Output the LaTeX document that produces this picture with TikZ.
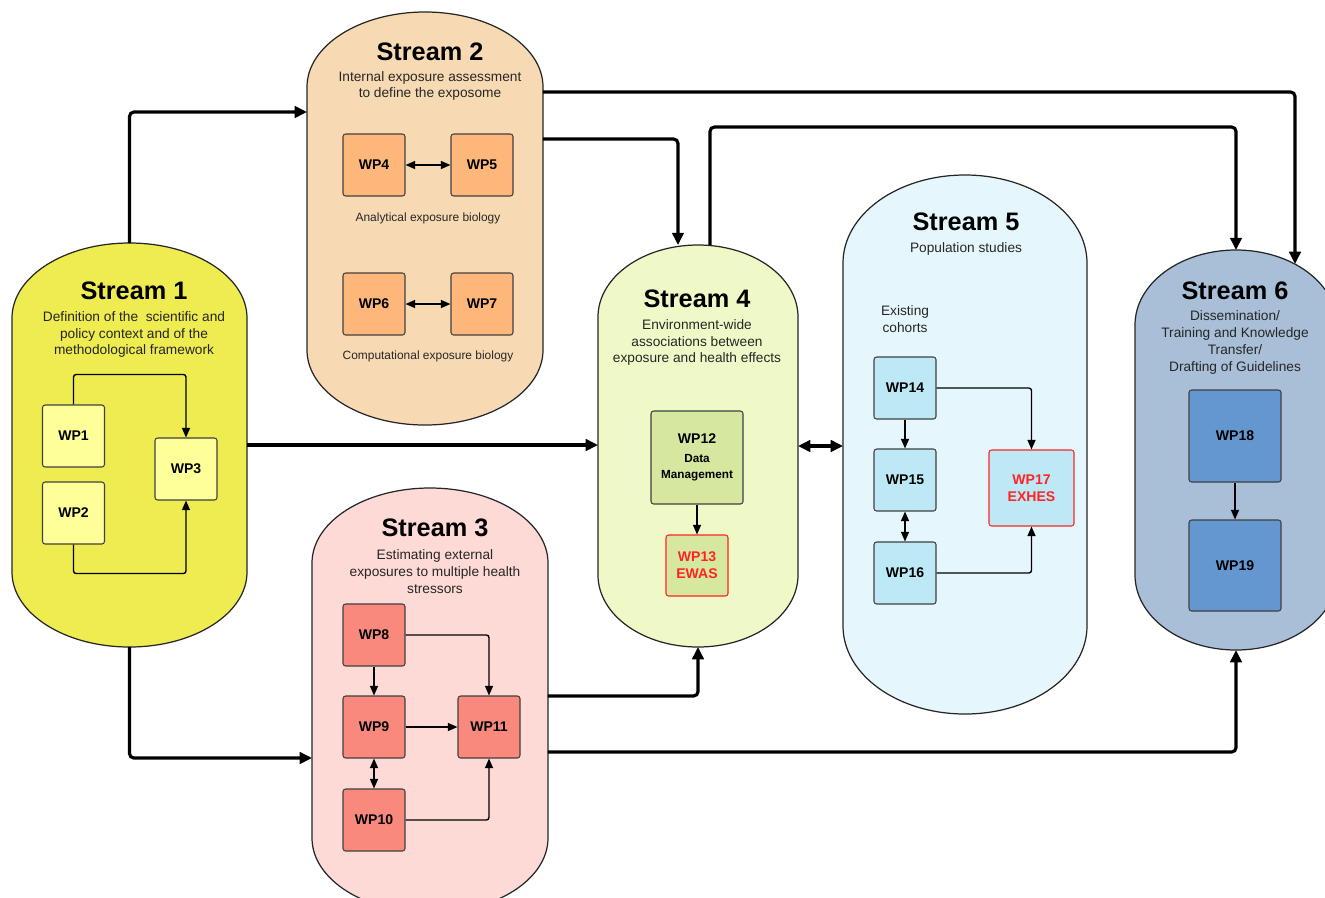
\documentclass[tikz,border=0pt]{standalone}
\usepackage{fontspec}
\setmainfont{Liberation Sans}
\usetikzlibrary{arrows.meta}
\definecolor{sAfill}{HTML}{EEEC50}
\definecolor{sAbox}{HTML}{FFFF9A}
\definecolor{sBfill}{HTML}{F7DAB3}
\definecolor{sBbox}{HTML}{FDB77A}
\definecolor{sCfill}{HTML}{FDDAD5}
\definecolor{sCbox}{HTML}{F9897C}
\definecolor{sDfill}{HTML}{EFF9C8}
\definecolor{sDbox}{HTML}{D6E8A0}
\definecolor{sEfill}{HTML}{E5F7FC}
\definecolor{sEbox}{HTML}{BDE8F6}
\definecolor{sFfill}{HTML}{A8BFD7}
\definecolor{sFbox}{HTML}{6497D0}
\definecolor{wpred}{HTML}{FF2424}
\newcommand{\stadiumshape}[6]{%
  \pgfmathsetmacro\stadrx{(#4-#2)/2}%
  \draw[streamline, fill=#1] (#2,{#3+#6}) arc[start angle=180,end angle=0,x radius=\stadrx*0.02cm,y radius=#6*0.02cm] -- (#4,{#5-#6}) arc[start angle=0,end angle=-180,x radius=\stadrx*0.02cm,y radius=#6*0.02cm] -- cycle;}
\tikzset{
  streamline/.style={draw=black!85, line width=0.7pt},
  sbb/.style={inner sep=0pt, outer sep=0pt, draw=none},
  wp/.style={draw=black!75, line width=0.6pt, rounded corners=1.5pt, minimum width=1.24cm, minimum height=1.24cm, inner sep=0pt, align=center, font=\bfseries\fontsize{8}{9.6}\selectfont},
  sttitle/.style={font=\bfseries\fontsize{14.4}{17}\selectfont, inner sep=0pt},
  stsub/.style={font=\fontsize{7.8}{9.6}\selectfont, align=center, text=black!85, inner sep=0pt},
  stsmall/.style={font=\fontsize{6.8}{8}\selectfont, text=black!85, inner sep=0pt},
  tarrow/.style={-{Triangle[length=5.5pt,width=4.6pt]}, line width=0.8pt, rounded corners=1.5pt},
  tboth/.style={{Triangle[length=5.5pt,width=4.6pt]}-{Triangle[length=5.5pt,width=4.6pt]}, line width=0.8pt},
  barrow/.style={-{Triangle[length=7pt,width=6.5pt]}, line width=1.8pt, rounded corners=2.5pt},
  bboth/.style={{Triangle[length=7pt,width=6.5pt]}-{Triangle[length=7pt,width=6.5pt]}, line width=1.8pt},
}
\begin{document}
\begin{tikzpicture}[x=0.02cm, y=-0.02cm]
\clip (0,0) rectangle (1325,897);
\fill[white] (0,0) rectangle (1325,897);

% stream shapes
\stadiumshape{sAfill}{12}{243}{247}{647}{75}
\stadiumshape{sBfill}{307}{12}{543}{425}{75}
\stadiumshape{sCfill}{312}{488}{548}{913}{75}
\stadiumshape{sDfill}{598}{245}{798}{647}{72}
\stadiumshape{sEfill}{843}{175}{1087}{714}{88}
\stadiumshape{sFfill}{1135}{250}{1337}{650}{75}

% stream anchor nodes
\node[sbb, minimum width=4.70cm, minimum height=8.08cm] (s1) at (129.5,445) {};
\node[sbb, minimum width=4.72cm, minimum height=8.26cm] (s2) at (425,218.5) {};
\node[sbb, minimum width=4.72cm, minimum height=8.50cm] (s3) at (430,700.5) {};
\node[sbb, minimum width=4.00cm, minimum height=8.04cm] (s4) at (698,446) {};
\node[sbb, minimum width=4.88cm, minimum height=10.78cm] (s5) at (965,444.5) {};
\node[sbb, minimum width=4.04cm, minimum height=8.00cm] (s6) at (1236,450) {};
\coordinate (s6top) at (1295,264);

% titles
\node[sttitle] (t1) at (134,291) {Stream 1};
\node[stsub] (d1) at (134,334.5) {Definition of the\ \ scientific and\\policy context and of the\\methodological framework};
\node[sttitle] (t2) at (430,52) {Stream 2};
\node[stsub] (d2) at (430,86) {Internal exposure assessment\\to define the exposome};
\node[sttitle] (t3) at (435,528) {Stream 3};
\node[stsub] (d3) at (435,571.5) {Estimating external\\exposures to multiple health\\stressors};
\node[sttitle] (t4) at (697,299) {Stream 4};
\node[stsub] (d4) at (697,342.5) {Environment-wide\\associations between\\exposure and health effects};
\node[sttitle] (t5) at (966,222) {Stream 5};
\node[stsub] (d5) at (966,248.5) {Population studies};
\node[stsub] (c5) at (905,319.5) {Existing\\cohorts};
\node[sttitle] (t6) at (1235,291) {Stream 6};
\node[stsub] (d6) at (1235,342.5) {Dissemination/\\Training and Knowledge\\Transfer/\\Drafting of Guidelines};
\node[stsmall] (l2a) at (428,218) {Analytical exposure biology};
\node[stsmall] (l2b) at (428,356) {Computational exposure biology};

% thick connectors
\draw[barrow] (s1.north) |- (s2.west |- 0,112);
\draw[barrow] (s1.east) -- (s1.east -| s4.west);
\draw[barrow] (s1.south) |- (s3.west |- 0,758);
\draw[barrow] (s2.east |- 0,92) -| (s6top);
\draw[barrow] (s2.east |- 0,139) -| (s4.north -| 678,0);
\draw[barrow] (s4.north -| 710,0) -- (710,127) -| (s6.north);
\draw[barrow] (s3.east |- 0,696) -| (s4.south);
\draw[barrow] (s3.east |- 0,752) -| (s6.south);
\draw[bboth] (s4.east) -- (s4.east -| s5.west);

% work packages
\node[wp, fill=sAbox] (wp1) at (73.5,436) {WP1};
\node[wp, fill=sAbox] (wp2) at (73.5,513) {WP2};
\node[wp, fill=sAbox] (wp3) at (186,469) {WP3};
\node[wp, fill=sBbox] (wp4) at (374,165) {WP4};
\node[wp, fill=sBbox] (wp5) at (482,165) {WP5};
\node[wp, fill=sBbox] (wp6) at (374,304) {WP6};
\node[wp, fill=sBbox] (wp7) at (482,304) {WP7};
\node[wp, fill=sCbox] (wp8) at (374,635) {WP8};
\node[wp, fill=sCbox] (wp9) at (374,727) {WP9};
\node[wp, fill=sCbox] (wp10) at (374,820) {WP10};
\node[wp, fill=sCbox] (wp11) at (489,727) {WP11};
\node[wp, fill=sDbox, minimum width=1.84cm, minimum height=1.86cm] (wp12) at (697,457.5) {WP12\\[1pt]{\fontsize{6.7}{9.5}\selectfont Data}\\{\fontsize{6.7}{8}\selectfont Management}};
\node[wp, fill=sDbox, draw=wpred, text=wpred, minimum height=1.22cm] (wp13) at (697,565.5) {WP13\\EWAS};
\node[wp, fill=sEbox] (wp14) at (905,388) {WP14};
\node[wp, fill=sEbox] (wp15) at (905,480) {WP15};
\node[wp, fill=sEbox] (wp16) at (905,573) {WP16};
\node[wp, fill=sEbox, draw=wpred, text=wpred, minimum width=1.70cm, minimum height=1.52cm] (wp17) at (1031.5,488) {WP17\\EXHES};
\node[wp, fill=sFbox, minimum width=1.84cm, minimum height=1.84cm] (wp18) at (1235,436) {WP18};
\node[wp, fill=sFbox, minimum width=1.84cm, minimum height=1.82cm] (wp19) at (1235,565.5) {WP19};

% thin connectors
\draw[tarrow] (wp1.north) -- ++(0,-30) -| (wp3.north);
\draw[tarrow] (wp2.south) -- ++(0,29) -| (wp3.south);
\draw[tboth] (wp4) -- (wp5);
\draw[tboth] (wp6) -- (wp7);
\draw[tarrow] (wp8.east) -| (wp11.north);
\draw[tarrow] (wp8) -- (wp9);
\draw[tarrow] (wp9) -- (wp11);
\draw[tboth] (wp9) -- (wp10);
\draw[tarrow] (wp10.east) -| (wp11.south);
\draw[tarrow] (wp12) -- (wp13);
\draw[tarrow] (wp14.east) -| (wp17.north);
\draw[tarrow] (wp14) -- (wp15);
\draw[tboth] (wp15) -- (wp16);
\draw[tarrow] (wp16.east) -| (wp17.south);
\draw[tarrow] (wp18) -- (wp19);
\end{tikzpicture}
\end{document}
